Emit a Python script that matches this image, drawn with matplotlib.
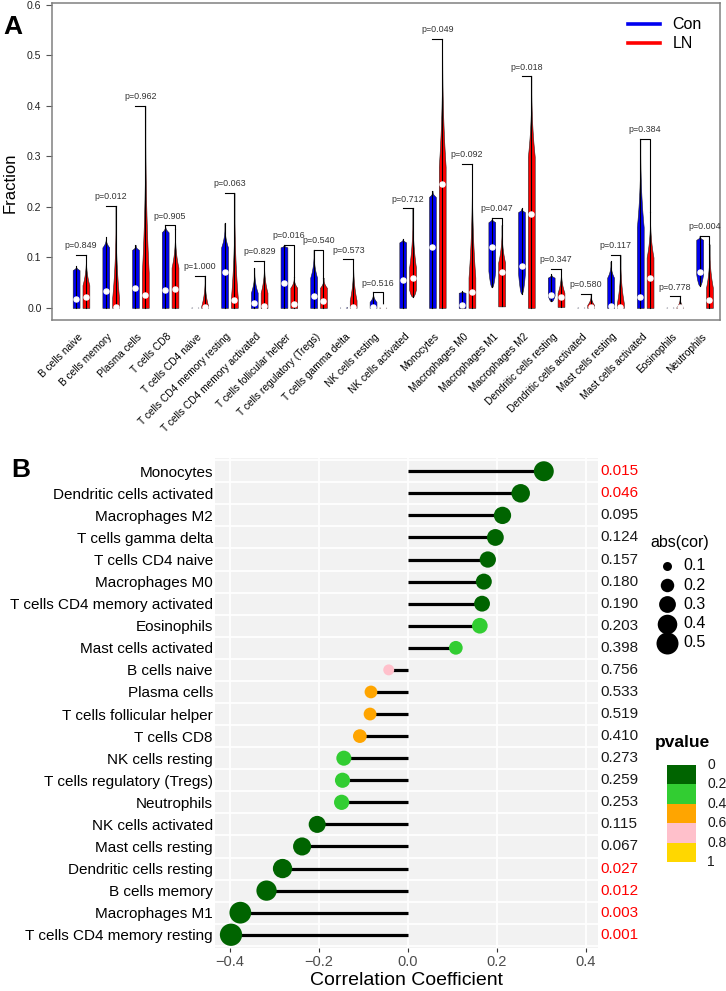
import numpy as np
import matplotlib
matplotlib.use('Agg')
import matplotlib.pyplot as plt
from matplotlib.lines import Line2D
from matplotlib.patches import Rectangle
from matplotlib.colors import ListedColormap, BoundaryNorm
import matplotlib.transforms as mtransforms

plt.rcParams['font.family'] = ['Liberation Sans', 'DejaVu Sans']

# ---------------- panel A: immune cell fractions (violins) ----------------
cells = ['B cells naive', 'B cells memory', 'Plasma cells', 'T cells CD8',
         'T cells CD4 naive', 'T cells CD4 memory resting',
         'T cells CD4 memory activated', 'T cells follicular helper',
         'T cells regulatory (Tregs)', 'T cells gamma delta', 'NK cells resting',
         'NK cells activated', 'Monocytes', 'Macrophages M0', 'Macrophages M1',
         'Macrophages M2', 'Dendritic cells resting', 'Dendritic cells activated',
         'Mast cells resting', 'Mast cells activated', 'Eosinophils', 'Neutrophils']
p_labels = ['0.849', '0.012', '0.962', '0.905', '1.000', '0.063', '0.829', '0.016',
            '0.540', '0.573', '0.516', '0.712', '0.049', '0.092', '0.047', '0.018',
            '0.347', '0.580', '0.117', '0.384', '0.778', '0.004']

# Con group: min, median, top of the bulk, max
con_min = [0, 0, 0, 0, 0, 0, 0, 0, 0, 0, 0, 0, 0, 0, 0.041, 0.028, 0.013, 0, 0, 0, 0, 0.044]
con_med = [0.018, 0.034, 0.040, 0.036, 0.000, 0.071, 0.010, 0.049, 0.024, 0.001, 0.002,
           0.056, 0.120, 0.006, 0.120, 0.082, 0.025, 0.000, 0.003, 0.022, 0.000, 0.072]
con_bulk = [0.075, 0.120, 0.115, 0.150, 0.001, 0.120, 0.030, 0.120, 0.060, 0.002, 0.012,
            0.130, 0.220, 0.030, 0.170, 0.190, 0.060, 0.001, 0.060, 0.160, 0.001, 0.135]
con_max = [0.083, 0.140, 0.125, 0.164, 0.002, 0.168, 0.079, 0.125, 0.115, 0.004, 0.031,
           0.137, 0.232, 0.033, 0.178, 0.197, 0.067, 0.002, 0.092, 0.335, 0.002, 0.143]

# LN group
ln_min = [0, 0, 0, 0, 0, 0, 0, 0, 0, 0, 0, 0.022, 0, 0, 0.003, 0, 0.002, 0, 0, 0, 0, 0]
ln_med = [0.022, 0.002, 0.025, 0.038, 0.002, 0.016, 0.003, 0.008, 0.013, 0.002, 0.001,
          0.060, 0.246, 0.032, 0.072, 0.186, 0.021, 0.001, 0.002, 0.060, 0.001, 0.016]
ln_bulk = [0.045, 0.020, 0.070, 0.080, 0.004, 0.020, 0.030, 0.040, 0.040, 0.015, 0.001,
           0.080, 0.280, 0.060, 0.090, 0.300, 0.030, 0.006, 0.010, 0.100, 0.001, 0.040]
ln_max = [0.105, 0.202, 0.400, 0.157, 0.064, 0.228, 0.093, 0.062, 0.060, 0.096, 0.002,
          0.197, 0.533, 0.285, 0.164, 0.459, 0.078, 0.028, 0.105, 0.190, 0.023, 0.126]

# ---------------- panel B: correlation lollipop ----------------
cor_cells = ['Monocytes', 'Dendritic cells activated', 'Macrophages M2',
             'T cells gamma delta', 'T cells CD4 naive', 'Macrophages M0',
             'T cells CD4 memory activated', 'Eosinophils', 'Mast cells activated',
             'B cells naive', 'Plasma cells', 'T cells follicular helper', 'T cells CD8',
             'NK cells resting', 'T cells regulatory (Tregs)', 'Neutrophils',
             'NK cells activated', 'Mast cells resting', 'Dendritic cells resting',
             'B cells memory', 'Macrophages M1', 'T cells CD4 memory resting']
cor_vals = [0.306, 0.254, 0.213, 0.197, 0.180, 0.171, 0.167, 0.162, 0.108, -0.043,
            -0.083, -0.085, -0.108, -0.144, -0.147, -0.149, -0.204, -0.238, -0.282,
            -0.318, -0.377, -0.398]
cor_p = [0.015, 0.046, 0.095, 0.124, 0.157, 0.180, 0.190, 0.203, 0.398, 0.756, 0.533,
         0.519, 0.410, 0.273, 0.259, 0.253, 0.115, 0.067, 0.027, 0.012, 0.003, 0.001]

p_bounds = [0, 0.2, 0.4, 0.6, 0.8, 1.0]
p_colors = ['#006400', '#32CD32', '#FFA500', '#FFC0CB', '#FFD700']
size_breaks = [0.1, 0.2, 0.3, 0.4, 0.5]


def violin_profile(lo, bulk, hi, n=150):
    y = np.linspace(lo, hi, n)
    w = np.ones_like(y)
    if hi > bulk:
        top = y > bulk
        s = (y[top] - bulk) / (hi - bulk)
        w[top] = (1 - s) ** 2.5
    if lo > 0.003:
        base = lo + 0.25 * (bulk - lo)
        low = y < base
        w[low] *= np.sqrt((y[low] - lo) / (base - lo))
    return y, w


def dot_px(v):
    return np.sqrt(82 + 1175 * np.abs(v))


W, H = 726, 991
fig = plt.figure(figsize=(W / 100, H / 100), dpi=100)

# ---- panel A ----
axA = fig.add_axes([52 / W, 1 - 320 / H, 668 / W, 317 / H])
xs = np.arange(1, len(cells) + 1)
off, hw = 0.165, 0.115
groups = [(-off, con_min, con_med, con_bulk, con_max, '#0000F0'),
          (off, ln_min, ln_med, ln_bulk, ln_max, '#FF0000')]
for dx, mn, md, bk, mx, col in groups:
    for i, x in enumerate(xs):
        y, w = violin_profile(mn[i], bk[i], mx[i])
        axA.fill_betweenx(y, x + dx - hw * w, x + dx + hw * w, facecolor=col,
                          edgecolor='#202020', lw=0.4, zorder=2)
        axA.plot([x + dx, x + dx], [mn[i], mx[i]], color='black', lw=0.8, zorder=3)
        axA.plot(x + dx, md[i], 'o', color='white', ms=3.6, mec='white', zorder=4)

for i, x in enumerate(xs):
    top = max(con_max[i], ln_max[i])
    axA.plot([x - off, x + off, x + off], [top, top, ln_max[i]], color='black',
             lw=0.8, zorder=3)
    axA.text(x, top + 0.009, 'p=' + p_labels[i], ha='center', va='bottom',
             fontsize=6.4, color='#333333')

axA.set_xlim(0.023, 22.52)
axA.set_ylim(-0.024, 0.604)
axA.set_yticks(np.arange(0, 0.61, 0.1))
axA.set_yticklabels(['%.1f' % v for v in np.arange(0, 0.61, 0.1)])
axA.set_xticks(xs)
axA.set_xticklabels(cells, rotation=45, ha='right', va='center',
                    rotation_mode='anchor', fontsize=7.3)
axA.tick_params(axis='x', length=0, pad=11)
axA.tick_params(axis='y', length=4, width=0.8, color='#555555', labelsize=7.6,
                labelcolor='#222222')
for sp in axA.spines.values():
    sp.set_color('#808080')
    sp.set_linewidth(1.1)

axA.legend(handles=[Line2D([], [], color='#0000F0', lw=2.6),
                    Line2D([], [], color='#FF0000', lw=2.6)],
           labels=['Con', 'LN'], loc='upper right', frameon=False, fontsize=11.5,
           handlelength=2.0, handletextpad=0.8, labelspacing=0.25,
           bbox_to_anchor=(716 / W, 1 - 3 / H), bbox_transform=fig.transFigure)

fig.text(10.5 / W, 1 - 183 / H, 'Fraction', rotation=90, ha='center', va='center',
         fontsize=12)
fig.text(3 / W, 1 - 27 / H, 'A', fontsize=19, fontweight='bold', va='center')

# ---- panel B ----
axB = fig.add_axes([215 / W, 1 - 948 / H, 383 / W, 490 / H])
axB.set_facecolor('#F2F2F2')
ys = np.arange(len(cor_cells), 0, -1)
cmap = ListedColormap(p_colors)
norm = BoundaryNorm(p_bounds, cmap.N)

for v in [-0.4, -0.2, 0, 0.2, 0.4]:
    axB.axvline(v, color='white', lw=1.3, zorder=0)
for yy in np.arange(0.5, len(cor_cells) + 1, 1):
    axB.axhline(yy, color='white', lw=1.3, zorder=0)

axB.hlines(ys, 0, cor_vals, color='black', lw=2.3, zorder=2)
sizes = (dot_px(np.array(cor_vals)) * 0.95 * 0.72) ** 2
axB.scatter(cor_vals, ys, s=sizes, c=cor_p, cmap=cmap, norm=norm, zorder=3,
            linewidths=0)

trans = mtransforms.blended_transform_factory(axB.transAxes, axB.transData)
for yy, p in zip(ys, cor_p):
    axB.text(1.006, yy, '%.3f' % p, transform=trans, ha='left', va='center',
             fontsize=11, color='#FF0000' if p < 0.05 else '#1a1a1a')

axB.set_xlim(-0.434, 0.428)
axB.set_ylim(0.4, len(cor_cells) + 0.6)
axB.set_yticks(ys)
axB.set_yticklabels(cor_cells, fontsize=11)
axB.set_xticks([-0.4, -0.2, 0, 0.2, 0.4])
axB.set_xticklabels(['\u22120.4', '\u22120.2', '0.0', '0.2', '0.4'])
axB.tick_params(axis='y', length=0, pad=1.5)
axB.tick_params(axis='x', length=3, color='#333333', labelsize=10.5,
                labelcolor='#4D4D4D', pad=2)
for sp in axB.spines.values():
    sp.set_visible(False)
axB.set_xlabel('Correlation Coefficient', fontsize=14, labelpad=2)

fig.text(11 / W, 1 - 470 / H, 'B', fontsize=19, fontweight='bold', va='center')

# ---- legends for panel B (drawn in pixel space) ----
axL = fig.add_axes([0, 0, 1, 1])
axL.set_xlim(0, W)
axL.set_ylim(H, 0)
axL.axis('off')

axL.text(650, 542, 'abs(cor)', ha='left', va='center', fontsize=11.5)
for k, b in enumerate(size_breaks):
    d = np.sqrt(max(1.0, -20 + 1007 * b))
    axL.scatter(667, 566 + k * 19.2, s=(d * 0.72) ** 2, color='black', linewidths=0)
    axL.text(683, 566 + k * 19.2, '%.1f' % b, ha='left', va='center', fontsize=11.5)

axL.text(655, 743, 'pvalue', ha='left', va='center', fontsize=12.5,
         fontweight='bold')
blk = 19.4
for k, col in enumerate(p_colors):
    axL.add_patch(Rectangle((667, 765 + k * blk), 29, blk, facecolor=col,
                            edgecolor='none'))
for k, b in enumerate(p_bounds):
    axL.text(707, 765 + k * blk, '%g' % b, ha='left', va='center', fontsize=10,
             color='#1a1a1a')

fig.savefig('out.png', dpi=100)
